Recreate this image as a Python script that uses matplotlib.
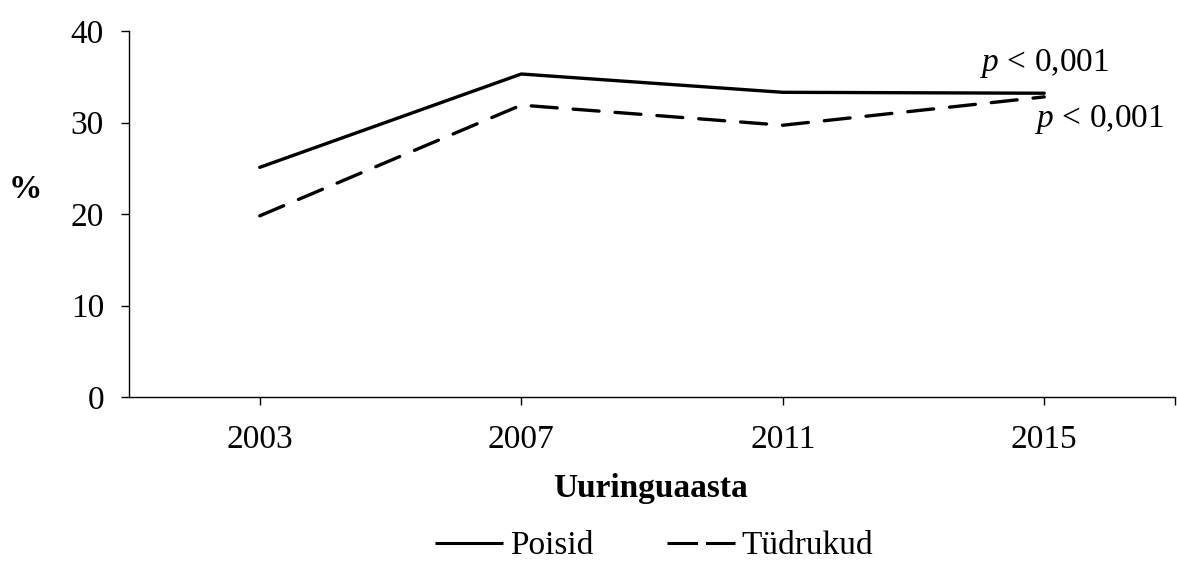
import matplotlib
matplotlib.use("Agg")
import matplotlib.pyplot as plt

years = ["2003", "2007", "2011", "2015"]
poisid = [25.1, 35.3, 33.3, 33.2]
tydrukud = [19.8, 31.9, 29.7, 32.8]
yticks = [0, 10, 20, 30, 40]

plt.rcParams['font.family'] = ['Liberation Serif', 'DejaVu Serif']
plt.rcParams['font.size'] = 24
plt.rcParams['mathtext.fontset'] = 'custom'
plt.rcParams['mathtext.it'] = 'Liberation Serif:italic'
plt.rcParams['mathtext.rm'] = 'Liberation Serif'

fig = plt.figure(figsize=(11.77, 5.61), dpi=100)
ax = fig.add_axes([129/1177, 1-397/561, (1175-129)/1177, (397-31)/561])

x = list(range(len(years)))
ax.plot(x, poisid, color='black', lw=2.4, solid_capstyle='round', label='Poisid')
ax.plot(x, tydrukud, color='black', lw=2.4, linestyle=(0, (7.8, 4.8)),
        dash_capstyle='round', label='Tüdrukud')

ax.set_xlim(-0.5, 3.5)
ax.set_ylim(0, 40)
ax.set_yticks(yticks)
ax.set_xticks(x + [3.5])
ax.set_xticklabels(years + [""])
ax.tick_params(axis='both', direction='out', length=6, width=1, colors='black', labelsize=24)
ax.tick_params(axis='x', pad=14)
ax.tick_params(axis='y', pad=12)
for s in ['top', 'right']:
    ax.spines[s].set_visible(False)
for s in ['left', 'bottom']:
    ax.spines[s].set_linewidth(1)

ax.text(3.0, 36.5, r"$p$ < 0,001", ha='center', va='center', fontsize=24)
ax.text(3.21, 30.3, r"$p$ < 0,001", ha='center', va='center', fontsize=24)

fig.text(650/1177, 1-488/561, "Uuringuaasta", ha='center', va='center', fontsize=24, fontweight='bold')
fig.text(25/1177, 1-190/561, "%", ha='center', va='center', fontsize=24, fontweight='bold')

leg = fig.legend(loc='center', bbox_to_anchor=(654/1177, 1-546/561), ncol=2, frameon=False,
                 handlelength=2.05, handletextpad=0.2, columnspacing=2.2, fontsize=24,
                 borderpad=0, borderaxespad=0)
lines = leg.get_lines()
for ln in lines:
    ln.set_linewidth(2.2)
    ln.set_solid_capstyle('butt')
    ln.set_dash_capstyle('butt')
lines[1].set_linestyle((0, (10.0, 2.6)))

fig.savefig("out.png", dpi=100)
